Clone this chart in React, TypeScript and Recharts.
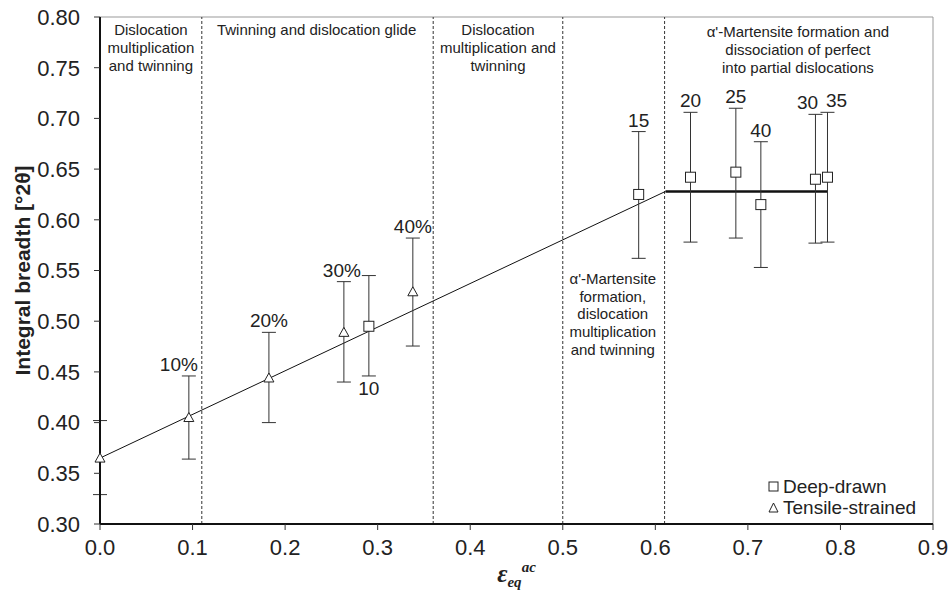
import React from "react";
import {
  ComposedChart,
  Scatter,
  ErrorBar,
  XAxis,
  YAxis,
  ReferenceLine,
  ReferenceDot,
} from "recharts";

// tensile-strained samples (open triangles)
const tensileStrain = [0, 0.096, 0.1825, 0.2635, 0.338];
const tensileBreadth = [0.365, 0.405, 0.444, 0.489, 0.529];
const tensileLow = [0.329, 0.364, 0.4, 0.44, 0.4755];
const tensileHigh = [0.402, 0.446, 0.489, 0.539, 0.582];
const tensileTags = ["", "10%", "20%", "30%", "40%"];

// deep-drawn samples (open squares), tagged by draw depth
const deepStrain = [0.2905, 0.582, 0.638, 0.687, 0.714, 0.773, 0.786];
const deepBreadth = [0.495, 0.625, 0.642, 0.647, 0.615, 0.64, 0.642];
const deepLow = [0.446, 0.562, 0.578, 0.582, 0.553, 0.577, 0.578];
const deepHigh = [0.545, 0.687, 0.706, 0.71, 0.677, 0.704, 0.706];
const deepTags = ["10", "15", "20", "25", "40", "30", "35"];

const xTicks = [0, 0.1, 0.2, 0.3, 0.4, 0.5, 0.6, 0.7, 0.8, 0.9];
const yTicks = [0.3, 0.35, 0.4, 0.45, 0.5, 0.55, 0.6, 0.65, 0.7, 0.75, 0.8];

// deformation regimes
const regionBounds = [0.11, 0.36, 0.5, 0.61];
const fitLine = [
  { x: 0, y: 0.365 },
  { x: 0.611, y: 0.628 },
];
const plateauLine = [
  { x: 0.611, y: 0.628 },
  { x: 0.786, y: 0.628 },
];

const noteX = [0.055, 0.234, 0.43, 0.754, 0.554];
const noteY = [0.787, 0.787, 0.787, 0.785, 0.5416];
const noteLines = [
  ["Dislocation", "multiplication", "and twinning"],
  ["Twinning and dislocation glide"],
  ["Dislocation", "multiplication and", "twinning"],
  ["α'-Martensite formation and", "dissociation of perfect", "into partial dislocations"],
  ["α'-Martensite", "formation,", "dislocation", "multiplication", "and twinning"],
];

const SANS = "'Liberation Sans', Arial, sans-serif";
const INK = "#222";

const toPoints = (xs: number[], ys: number[], lo: number[], hi: number[], tags: string[]) =>
  xs.map((x, i) => ({
    x,
    y: ys[i],
    err: [+(ys[i] - lo[i]).toFixed(4), +(hi[i] - ys[i]).toFixed(4)],
    lo: lo[i],
    hi: hi[i],
    tag: tags[i],
  }));

const tensile = toPoints(tensileStrain, tensileBreadth, tensileLow, tensileHigh, tensileTags);
const deep = toPoints(deepStrain, deepBreadth, deepLow, deepHigh, deepTags);

// tag anchors: above the error bar, except "10" which sits below it
const belowTags = new Set(["10"]);
const tagNudge: Record<string, number> = { "10%": -10, "30%": -2, "30": -8, "35": 9 };
const tagPoints = [...tensile, ...deep]
  .filter((p) => p.tag)
  .map((p) => ({ x: p.x, y: belowTags.has(p.tag) ? p.lo : p.hi, tag: p.tag, below: belowTags.has(p.tag) }));

const Triangle = (props: any) => {
  const { cx, cy } = props;
  if (cx == null || cy == null) return null;
  return (
    <polygon
      points={`${cx - 5},${cy + 4} ${cx + 5},${cy + 4} ${cx},${cy - 5}`}
      fill="#fff"
      stroke={INK}
      strokeWidth={1}
    />
  );
};

const Square = (props: any) => {
  const { cx, cy } = props;
  if (cx == null || cy == null) return null;
  return <rect x={cx - 5} y={cy - 5} width={10} height={10} fill="#fff" stroke={INK} strokeWidth={1} />;
};

const Tag = (props: any) => {
  const { cx, cy, payload } = props;
  if (cx == null || cy == null) return null;
  const dx = tagNudge[payload.tag] ?? 0;
  return (
    <text
      x={cx + dx}
      y={payload.below ? cy + 19 : cy - 5}
      textAnchor="middle"
      fontFamily={SANS}
      fontSize={19}
      fill={INK}
    >
      {payload.tag}
    </text>
  );
};

const noteShape = (lines: string[]) => (props: any) => {
  const { cx, cy } = props;
  return (
    <text x={cx} y={cy} textAnchor="middle" fontFamily={SANS} fontSize={15} fill={INK}>
      {lines.map((l, i) => (
        <tspan key={i} x={cx} y={cy + 5 + i * 17.7}>
          {l}
        </tspan>
      ))}
    </text>
  );
};

const YTitle = (props: any) => {
  const vb = props.viewBox;
  const cy = vb.y + vb.height / 2;
  return (
    <text
      x={30}
      y={cy}
      transform={`rotate(-90, 30, ${cy})`}
      textAnchor="middle"
      fontFamily={SANS}
      fontWeight="bold"
      fontSize={21}
      fill={INK}
    >
      Integral breadth [°2θ]
    </text>
  );
};

const XTitle = (props: any) => {
  const vb = props.viewBox;
  const cx = vb.x + vb.width / 2;
  return (
    <text
      x={cx}
      y={582}
      textAnchor="middle"
      fontFamily="'Liberation Serif', 'Times New Roman', serif"
      fontWeight="bold"
      fontStyle="italic"
      fill={INK}
    >
      <tspan fontSize={25}>ε</tspan>
      <tspan fontSize={15} dy={5}>
        eq
      </tspan>
      <tspan fontSize={15} dy={-15}>
        ac
      </tspan>
    </text>
  );
};

const LegendBox = () => (
  <div
    style={{
      position: "absolute",
      left: 766,
      top: 476,
      fontFamily: SANS,
      fontSize: 19,
      color: INK,
      lineHeight: "21px",
    }}
  >
    <div style={{ display: "flex", alignItems: "center" }}>
      <svg width={17} height={21}>
        <rect x={3} y={6} width={9} height={9} fill="#fff" stroke={INK} strokeWidth={1} />
      </svg>
      <span>Deep-drawn</span>
    </div>
    <div style={{ display: "flex", alignItems: "center" }}>
      <svg width={17} height={21}>
        <polygon points="3,15 12,15 7.5,6" fill="#fff" stroke={INK} strokeWidth={1} />
      </svg>
      <span>Tensile-strained</span>
    </div>
  </div>
);

export default function App() {
  return (
    <div style={{ position: "absolute", left: 0, top: 0, width: 950, height: 594, background: "#fff" }}>
      <ComposedChart width={950} height={594} margin={{ top: 17, right: 17, left: 0, bottom: 0 }}>
        <XAxis
          type="number"
          dataKey="x"
          domain={[0, 0.9]}
          ticks={xTicks}
          tickFormatter={(v: number) => v.toFixed(1)}
          height={70}
          tickSize={6}
          tickMargin={9}
          tick={{ fontSize: 22, fill: INK, fontFamily: SANS }}
          axisLine={{ stroke: "#111", strokeWidth: 2 }}
          tickLine={{ stroke: "#333" }}
          label={{ content: XTitle }}
        />
        <YAxis
          type="number"
          dataKey="y"
          domain={[0.3, 0.8]}
          ticks={yTicks}
          tickFormatter={(v: number) => v.toFixed(2)}
          width={100}
          tickSize={6}
          tickMargin={14}
          tick={{ fontSize: 22, fill: INK, fontFamily: SANS }}
          axisLine={{ stroke: "#111", strokeWidth: 2 }}
          tickLine={{ stroke: "#333" }}
          label={{ content: YTitle }}
        />
        <ReferenceLine y={0.8} stroke="#999" strokeWidth={1} />
        <ReferenceLine x={0.9} stroke="#999" strokeWidth={1} />
        {regionBounds.map((b) => (
          <ReferenceLine key={b} x={b} stroke="#333" strokeWidth={1} strokeDasharray="3 2" />
        ))}
        {noteLines.map((lines, i) => (
          <ReferenceDot
            key={i}
            x={noteX[i]}
            y={noteY[i]}
            r={0}
            ifOverflow="visible"
            shape={noteShape(lines)}
          />
        ))}
        <ReferenceLine segment={fitLine} stroke="#111" strokeWidth={1} />
        <ReferenceLine segment={plateauLine} stroke="#111" strokeWidth={2.5} />
        <Scatter data={tensile} shape={Triangle} isAnimationActive={false}>
          <ErrorBar dataKey="err" direction="y" width={7} stroke="#333" strokeWidth={1} />
        </Scatter>
        <Scatter data={deep} shape={Square} isAnimationActive={false}>
          <ErrorBar dataKey="err" direction="y" width={7} stroke="#333" strokeWidth={1} />
        </Scatter>
        <Scatter data={tagPoints} shape={Tag} isAnimationActive={false} legendType="none" />
      </ComposedChart>
      <LegendBox />
    </div>
  );
}
